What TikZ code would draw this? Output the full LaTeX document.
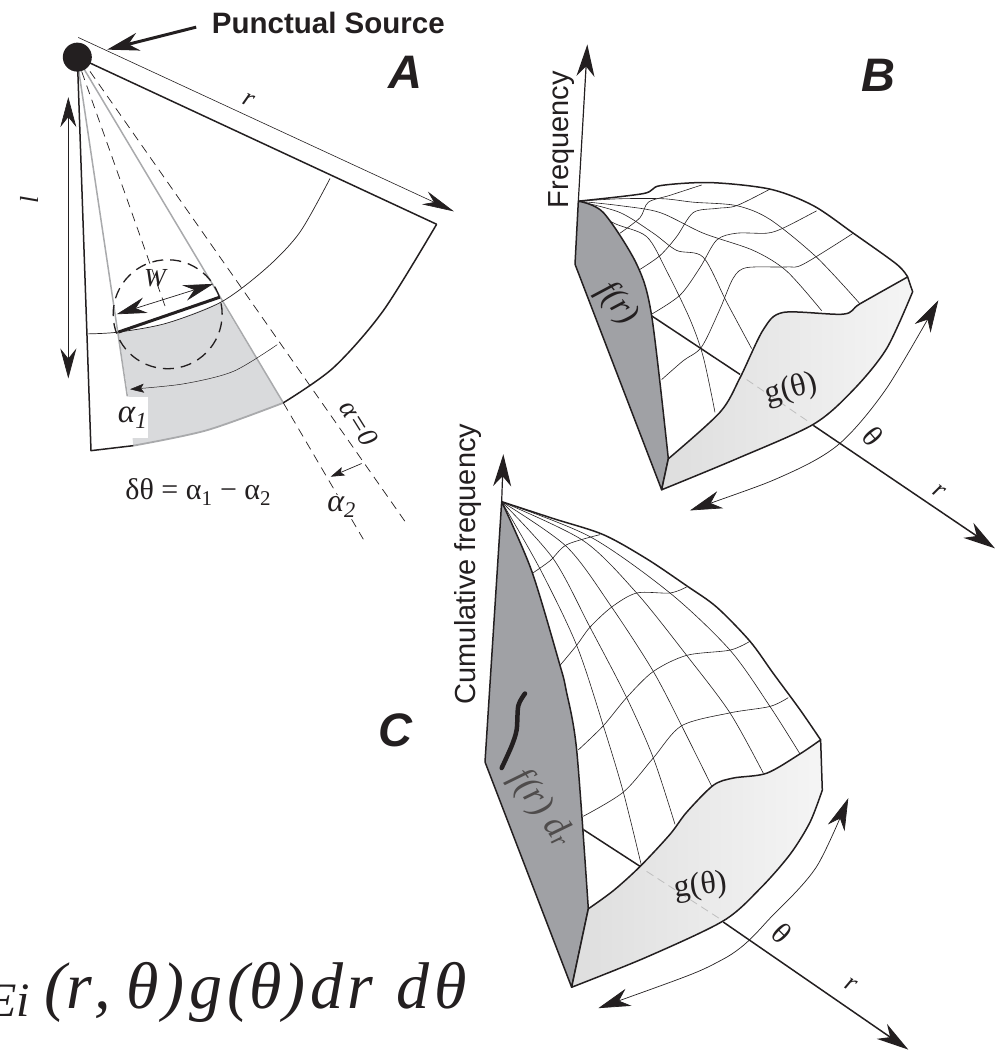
\documentclass[tikz,border=0pt]{standalone}
\usepackage{fontspec}
\setmainfont{Liberation Serif}
\setsansfont{Liberation Sans}
\usetikzlibrary{arrows.meta,calc}
\definecolor{tinta}{HTML}{231F20}
\definecolor{caradark}{HTML}{A0A1A5}
\definecolor{sector}{HTML}{D9DADC}
\definecolor{sectorline}{HTML}{A9AAAC}
\newcommand{\sz}[1]{\fontsize{#1}{#1}\selectfont}
\tikzset{
  outline/.style={tinta,line width=1.5pt,line join=round},
  meshline/.style={tinta,line width=0.6pt},
  thinline/.style={tinta,line width=0.7pt},
  darkface/.style={outline,fill=caradark},
  lightface/.style={outline,left color=black!13,right color=black!4},
  dashline/.style={tinta,line width=0.7pt,dash pattern=on 9pt off 6pt},
  hidden/.style={gray!50,line width=0.8pt,dash pattern=on 8pt off 5pt},
  bigtip/.style={-{Stealth[length=32pt,width=18pt,inset=10pt]}},
  bothtips/.style={{Stealth[length=30pt,width=16pt,inset=10pt]}-{Stealth[length=30pt,width=16pt,inset=10pt]}},
  arctips/.style={{Stealth[length=32pt,width=18pt,inset=10pt]}-{Stealth[length=32pt,width=18pt,inset=10pt]}},
  smalltip/.style={-{Stealth[length=14pt,width=9pt,inset=3pt]}},
  letra/.style={font=\sffamily\bfseries\itshape\sz{47},text=tinta,inner sep=0pt},
  etiqueta/.style={font=\sffamily\sz{29},text=tinta,inner sep=0pt},
  serif/.style={font=\rmfamily\sz{30},text=tinta,inner sep=0pt},
  cursiva/.style={font=\rmfamily\itshape\sz{30},text=tinta,inner sep=0pt},
}
\begin{document}
\begin{tikzpicture}[x=1pt,y=-1pt]
  \useasboundingbox (0,0) rectangle (995,1051);
  % panel A
  \begin{scope}[xscale=0.3333,yscale=0.3571]
    \fill[sector] plot[smooth] coordinates {(355,930) (500,905) (665,845)}
      -- (850,1128) -- plot[smooth] coordinates {(850,1128) (620,1205) (400,1248)} -- (385,1110) -- cycle;
    \node[cursiva,font=\rmfamily\itshape\sz{33},fill=white,minimum width=30pt,minimum height=41pt] (alfauno) at (398,1170) {α\textsubscript{1}};
    \draw[sectorline,line width=1.5pt] (235,190) -- (382,1110);
    \draw[sectorline,line width=1.5pt] (250,190) -- (850,1128);
    \draw[sectorline,line width=1.8pt] plot[smooth] coordinates {(400,1248) (620,1205) (850,1128)};
    \draw[dashline] (245,200) -- (500,870);
    \draw[dashline] (270,200) -- (1215,1460);
    \draw[dashline] (850,1128) -- (1090,1510);
    \draw[outline] (232,160) -- (1310,628);
    \draw[outline] (232,160) -- (273,1262) -- (400,1248);
    \draw[outline] plot[smooth] coordinates {(850,1128) (1000,1030) (1150,870) (1310,628)};
    \draw[thinline] plot[smooth] coordinates {(263,935) (355,930) (500,905) (665,845) (800,750) (900,650) (990,500)};
    \draw[thinline,line width=0.5pt,smalltip] plot[smooth] coordinates {(832,965) (700,1040) (550,1075) (390,1090)};
    \draw[tinta,line width=3pt] (355,930) -- (660,832);
    \node[circle,draw=tinta,line width=1.3pt,dash pattern=on 11pt off 7pt,minimum size=109pt,inner sep=0pt] (muestra) at (503,880) {};
    \draw[thinline,bothtips] (350,880) -- (640,795);
    \draw[thinline,bothtips] (205,272) -- (205,1060);
    \draw[thinline,smalltip] (1085,1298) -- (992,1335);
    \draw[thinline,line width=0.6pt,-{Stealth[length=32pt,width=14pt,inset=10pt]}] (235,105) -- (1362,592);
    \node[circle,fill=tinta,minimum size=29pt,inner sep=0pt] (fuente) at (232,160) {};
    \node[cursiva,font=\rmfamily\itshape\sz{26}] (ancho) at (465,780) {W};
    \node[cursiva,font=\rmfamily\itshape\sz{26},rotate=90] (ele) at (87,560) {l};
    \node[cursiva,font=\rmfamily\itshape\sz{26},rotate=-25] (radio) at (745,280) {r};
    \node[cursiva,font=\rmfamily\itshape\sz{28},rotate=-58] (cero) at (1078,1185) {α=0};
    \node[cursiva,font=\rmfamily\itshape\sz{32},fill=white,inner sep=1pt] (alfados) at (1025,1420) {α\textsubscript{2}};
    \node[serif] (delta) at (595,1378) {δθ = α\textsubscript{1} − α\textsubscript{2}};
    \node[font=\sffamily\bfseries\sz{29.5},text=tinta,inner sep=0pt] (puntual) at (985,65) {Punctual Source};
    \draw[tinta,line width=3pt,bigtip,shorten <=16pt,shorten >=16pt] (puntual.west) -- (fuente);
  \end{scope}
  \node[letra] (panela) at (405,72) {A};
  % panel B
  \begin{scope}[shift={(520,30)},xscale=0.3333,yscale=0.3444]
    \draw[outline,line width=1.2pt,bigtip] (175,497) -- (202,42);
    \node[etiqueta,rotate=90] (frecuencia) at (125,318) {Frequency};
    \draw[meshline] plot[smooth] coordinates {(175,497) (300,490) (430,490) (520,500) (650,510) (750,550) (890,660) (1020,795)};
    \draw[meshline] plot[smooth] coordinates {(175,497) (300,510) (420,530) (550,590) (700,640) (800,700) (905,815)};
    \draw[meshline] plot[smooth] coordinates {(175,497) (300,530) (400,590) (470,640) (550,660) (620,790) (695,925)};
    \draw[meshline] plot[smooth] coordinates {(175,497) (280,560) (380,600) (440,700) (510,840) (550,950) (585,1110)};
    \draw[meshline] plot[smooth] coordinates {(300,590) (360,545) (385,500) (450,480) (545,450)};
    \draw[meshline] plot[smooth] coordinates {(360,695) (420,655) (470,600) (520,530) (590,518) (650,510) (750,462)};
    \draw[meshline] plot[smooth] coordinates {(395,825) (480,770) (540,690) (590,610) (650,590) (740,590) (790,575) (890,525)};
    \draw[meshline] plot[smooth] coordinates {(425,1015) (490,960) (545,920) (600,810) (640,720) (680,690) (800,688) (850,680) (1000,590)};
    \draw[outline] plot[smooth] coordinates {(175,497) (370,475) (420,452) (570,443) (750,462) (880,510) (1000,590) (1130,680) (1163,717)};
    \draw[outline] (395,830) -- (660,1000);
    \draw[darkface] plot[smooth] coordinates {(175,497) (250,530) (350,680) (395,830) (445,1245)} -- (425,1335) -- (165,680) -- cycle;
    \draw[lightface] (445,1245) -- (425,1335) -- plot[smooth] coordinates {(425,1335) (650,1245) (880,1145) (1000,1045) (1100,925) (1178,760)} -- (1163,717)
      -- plot[smooth] coordinates {(1163,717) (1020,795) (970,825) (790,820) (730,870) (660,1010) (600,1110) (445,1245)} -- cycle;
    \draw[hidden] (680,1015) -- (870,1140);
    \draw[outline,bigtip] (880,1148) -- (1425,1505);
    \draw[thinline,arctips] plot[smooth] coordinates {(510,1395) (800,1290) (960,1200) (1100,1040) (1255,785)};
    \node[cursiva,font=\rmfamily\itshape\sz{34},rotate=-52] (efe) at (292,795) {f(r)};
    \node[serif,font=\rmfamily\sz{32},rotate=14] (ge) at (815,1045) {g(θ)};
    \node[serif,rotate=-50] (teta) at (1058,1180) {θ};
    \node[cursiva,font=\rmfamily\itshape\sz{26},rotate=-35] (erre) at (1258,1340) {r};
  \end{scope}
  \node[letra] (panelb) at (878,75) {B};
  % panel C
  \begin{scope}[shift={(440,420)},xscale=0.3333,yscale=0.4023]
    \draw[outline,line width=1.2pt,bigtip] (185,203) -- (190,85);
    \node[etiqueta,rotate=90] (acumulada) at (85,358) {Cumulative frequency};
    \draw[meshline] plot[smooth] coordinates {(185,203) (450,290) (690,430) (870,572) (990,712) (1080,830)};
    \draw[meshline] plot[smooth] coordinates {(185,203) (430,300) (590,430) (740,585) (870,728) (970,878)};
    \draw[meshline] plot[smooth] coordinates {(185,203) (380,315) (515,465) (640,625) (725,760) (815,910)};
    \draw[meshline] plot[smooth] coordinates {(185,203) (340,345) (450,515) (560,690) (640,840) (705,1005)};
    \draw[meshline] plot[smooth] coordinates {(185,203) (300,370) (410,560) (490,760) (550,925) (605,1110)};
    \draw[meshline] plot[smooth] coordinates {(270,385) (330,350) (380,310) (480,285)};
    \draw[meshline] plot[smooth] coordinates {(360,610) (410,560) (450,515) (515,465) (590,430) (690,430) (740,415)};
    \draw[meshline] plot[smooth] coordinates {(415,820) (490,760) (560,690) (640,625) (740,585) (870,572) (930,550)};
    \draw[meshline] plot[smooth] coordinates {(430,985) (550,925) (640,840) (725,760) (870,728) (990,712) (1045,690)};
    \draw[outline] plot[smooth] coordinates {(185,203) (340,245) (490,285) (620,345) (740,412) (830,465) (930,550) (1000,630) (1080,720) (1142,795)};
    \draw[outline] (430,1018) -- (605,1112);
    \draw[darkface] plot[smooth] coordinates {(185,203) (275,375) (360,610) (378,670) (410,820) (445,1215)} -- (395,1410) -- (135,850) -- cycle;
    \draw[lightface] (445,1215) -- (395,1410) -- plot[smooth] coordinates {(395,1410) (620,1335) (850,1245) (960,1165) (1050,1080) (1110,1000) (1147,920)} -- (1142,795)
      -- plot[smooth] coordinates {(1142,795) (1080,830) (980,878) (880,890) (820,908) (740,975) (690,1030) (600,1110) (520,1170) (445,1215)} -- cycle;
    \draw[hidden] (620,1122) -- (840,1240);
    \draw[outline,bigtip] (850,1248) -- (1405,1565);
    \draw[thinline,arctips] plot[smooth] coordinates {(475,1462) (850,1340) (1000,1230) (1130,1110) (1225,940)};
    \draw[tinta,line width=4.5pt,line cap=round] plot[smooth] coordinates {(255,680) (235,710) (230,770) (215,810) (185,865)};
    \node[cursiva,font=\rmfamily\itshape\sz{36},text=tinta!80,rotate=-54] (integral) at (305,965) {f(r) d\textsubscript{r}};
    \node[serif,font=\rmfamily\sz{32},rotate=8] (gec) at (783,1160) {g(θ)};
    \node[serif,rotate=-45] (tetac) at (1027,1275) {θ};
    \node[cursiva,font=\rmfamily\itshape\sz{26},rotate=-30] (errec) at (1233,1403) {r};
  \end{scope}
  \node[letra] (panelc) at (395,730) {C};
  % formula, cut by the left edge
  \begin{scope}
    \clip (0,940) rectangle (480,1030);
    \node[anchor=base east,font=\rmfamily\itshape\sz{66},text=tinta,inner sep=0pt] (formula) at (467,1008)
      {\raisebox{-8pt}{\sz{48}Ei}\kern15pt(r\kern2pt,\kern16pt θ\kern3pt)\kern5pt g\kern5pt(θ\kern2pt)\kern5pt d\kern4pt r\kern23pt d\kern5pt θ};
  \end{scope}
\end{tikzpicture}
\end{document}
